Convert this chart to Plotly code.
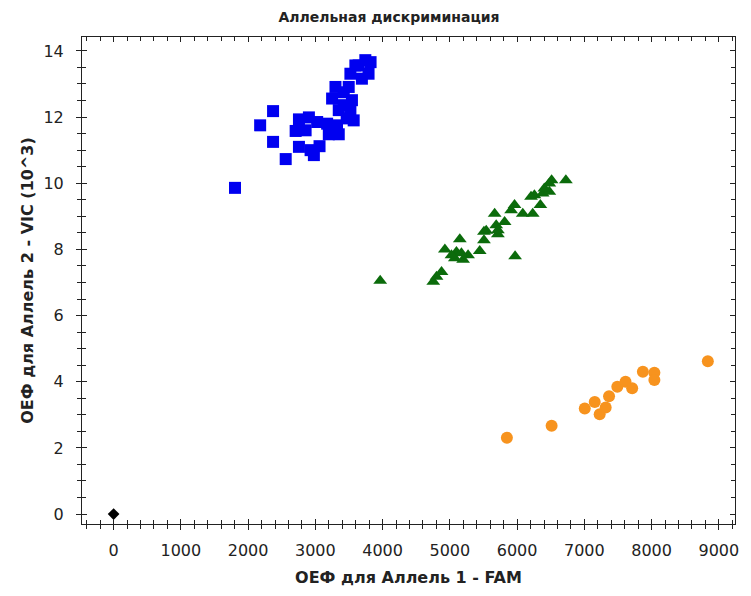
import plotly.graph_objects as go

title_text = "Аллельная дискриминация"
x_title = "ОЕФ для Аллель 1 - FAM"
y_title = "ОЕФ для Аллель 2 - VIC (10^3)"

# Allele 2 (VIC) homozygotes - blue squares
blue_x = [1805, 2371, 2179, 2371, 2559, 2756, 2707, 2855, 2756, 2929, 2978, 3062, 3027, 3175,
          3322, 3348, 3249, 3521, 3544, 3299, 3496, 3521, 3595, 3743, 3791, 3692, 3466, 3422,
          3644, 3821, 3422, 3348, 3200, 3570, 2904]
blue_y = [9.86, 12.18, 11.75, 11.25, 10.73, 11.93, 11.58, 11.60, 11.10, 11.00, 10.85, 11.12, 11.85, 11.80,
          11.75, 12.21, 12.56, 12.21, 12.51, 12.91, 12.91, 13.31, 13.56, 13.72, 13.31, 13.16, 11.96, 12.36,
          13.56, 13.66, 12.75, 11.48, 11.48, 11.90, 11.99]

# Heterozygotes - green triangles
green_x = [3964, 4753, 4802, 4876, 4926, 5148, 5098, 5074, 5197, 5271, 5444, 5507, 5541, 5714,
           5689, 5666, 5814, 5911, 5962, 6084, 5970, 6232, 6346, 6257, 6380, 6479, 6479, 6513,
           6725, 6207, 6405, 5714, 5507, 5172, 5024]
green_y = [7.05, 7.02, 7.17, 7.32, 8.00, 8.31, 7.92, 7.73, 7.69, 7.82, 7.95, 8.28, 8.56, 8.46,
           8.73, 9.08, 8.83, 9.18, 9.34, 9.08, 7.79, 9.08, 9.34, 9.64, 9.69, 9.74, 9.99, 10.09,
           10.09, 9.59, 9.84, 8.58, 8.53, 7.88, 7.82]

# Allele 1 (FAM) homozygotes - orange circles
orange_x = [5848, 6513, 7006, 7154, 7228, 7317, 7367, 7490, 7612, 7711, 7870, 8041, 8041, 8836]
orange_y = [2.31, 2.67, 3.19, 3.39, 3.02, 3.22, 3.56, 3.85, 4.00, 3.80, 4.30, 4.27, 4.05, 4.62]

# No template control - black diamond
ntc_x = [0]
ntc_y = [0]

x_range = [-470, 9240]
y_range = [-0.30, 14.42]

fig = go.Figure()
fig.add_trace(go.Scatter(x=blue_x, y=blue_y, mode="markers",
                         marker=dict(symbol="square", size=12, color="#0000f0", line=dict(width=0))))
fig.add_trace(go.Scatter(x=green_x, y=green_y, mode="markers",
                         marker=dict(symbol="triangle-up", size=12, color="#0b6b0b", line=dict(width=0))))
fig.add_trace(go.Scatter(x=orange_x, y=orange_y, mode="markers",
                         marker=dict(symbol="circle", size=12, color="#f7931e", line=dict(width=0))))
fig.add_trace(go.Scatter(x=ntc_x, y=ntc_y, mode="markers",
                         marker=dict(symbol="diamond", size=9, color="#000000", line=dict(width=0))))
# empty trace to host the overlay axes (outer half of the crossing ticks)
fig.add_trace(go.Scatter(x=[], y=[], xaxis="x2", yaxis="y2", showlegend=False, hoverinfo="skip"))

font_main = "DejaVu Sans, Arial, sans-serif"
common_axis = dict(showgrid=False, zeroline=False, showline=True, linecolor="#222",
                   linewidth=1, tickcolor="#222", ticks="inside", ticklen=5, mirror="ticks")

W, H = 743, 588  # page body adds an 8px offset

fig.update_layout(
    width=W, height=H,
    margin=dict(l=74, r=13, t=29, b=72),
    paper_bgcolor="white", plot_bgcolor="white",
    showlegend=False,
    font=dict(family=font_main, color="#222"),
    title=dict(text="<b>" + title_text + "</b>", font=dict(size=14, color="#222"),
               xref="container", x=381 / W, xanchor="center",
               yref="container", y=1 - 9 / H, yanchor="middle"),
    xaxis=dict(range=x_range, tick0=0, dtick=1000,
               minor=dict(dtick=200, ticks="inside", ticklen=4, tickcolor="#222"),
               tickfont=dict(size=16, color="#222"), ticklabelstandoff=12,
               title=dict(text="<b>" + x_title + "</b>", font=dict(size=16, color="#222"), standoff=12),
               **common_axis),
    yaxis=dict(range=y_range, tick0=0, dtick=2,
               minor=dict(dtick=0.5, ticks="inside", ticklen=4, tickcolor="#222"),
               tickfont=dict(size=16, color="#222"), ticklabelstandoff=14,
               title=dict(text="<b>" + y_title + "</b>", font=dict(size=16, color="#222"), standoff=5),
               **common_axis),
    xaxis2=dict(range=x_range, overlaying="x", anchor="y2", side="bottom", tick0=0, dtick=1000,
                showgrid=False, zeroline=False, showline=False, showticklabels=False,
                ticks="outside", ticklen=5, tickcolor="#222",
                minor=dict(dtick=200, ticks="outside", ticklen=4, tickcolor="#222")),
    yaxis2=dict(range=y_range, overlaying="y", anchor="x2", side="left", tick0=0, dtick=2,
                showgrid=False, zeroline=False, showline=False, showticklabels=False,
                ticks="outside", ticklen=5, tickcolor="#222",
                minor=dict(dtick=0.5, ticks="outside", ticklen=4, tickcolor="#222")),
)

fig.write_html("out.html")
